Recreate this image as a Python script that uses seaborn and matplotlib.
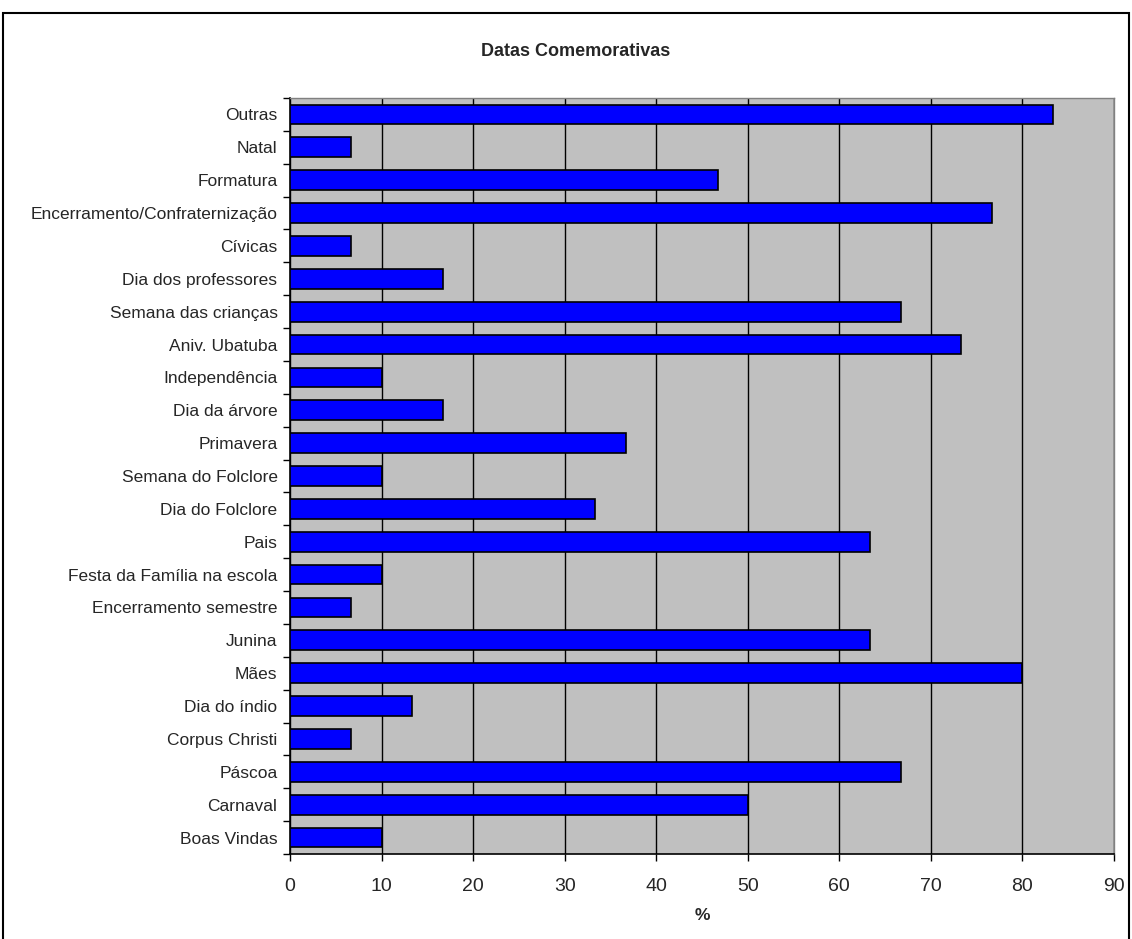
import matplotlib
matplotlib.use("Agg")
import matplotlib.pyplot as plt
from matplotlib.patches import Rectangle
from matplotlib.ticker import FixedLocator
import seaborn as sns
import pandas as pd
import numpy as np

categorias = [
    "Outras", "Natal", "Formatura", "Encerramento/Confraternização", "Cívicas",
    "Dia dos professores", "Semana das crianças", "Aniv. Ubatuba", "Independência",
    "Dia da árvore", "Primavera", "Semana do Folclore", "Dia do Folclore", "Pais",
    "Festa da Família na escola", "Encerramento semestre", "Junina", "Mães",
    "Dia do índio", "Corpus Christi", "Páscoa", "Carnaval", "Boas Vindas",
]
percentuais = [
    83.3, 6.7, 46.7, 76.7, 6.7,
    16.7, 66.7, 73.3, 10.0,
    16.7, 36.7, 10.0, 33.3, 63.3,
    10.0, 6.7, 63.3, 80.0,
    13.3, 6.7, 66.7, 50.0, 10.0,
]
x_ticks = [0, 10, 20, 30, 40, 50, 60, 70, 80, 90]

df = pd.DataFrame({"Data": categorias, "Percentual": percentuais})

sns.set_theme(style="white")
plt.rcParams["font.family"] = ["Liberation Sans", "DejaVu Sans"]

fig = plt.figure(figsize=(11.32, 9.39), dpi=100)
ax = fig.add_axes([290 / 1132, 1 - 854 / 939, (1114 - 290) / 1132, (854 - 98) / 939])
ax.set_facecolor("#C0C0C0")

sns.barplot(data=df, x="Percentual", y="Data", order=categorias, orient="h",
            color="#0000FF", saturation=1, width=0.6, edgecolor="black",
            linewidth=1.2, ax=ax, zorder=3)

ax.set_xlim(0, 90)
ax.set_ylim(len(categorias) - 0.5, -0.5)
ax.xaxis.set_major_locator(FixedLocator(x_ticks))
ax.set_xticklabels([str(t) for t in x_ticks], fontsize=14)
ax.grid(axis="x", color="black", linewidth=1.0, zorder=1)
ax.set_axisbelow(True)

# y ticks: labels at categories, tick marks at category boundaries
ax.tick_params(axis="y", which="major", length=0, pad=9, labelsize=12.5)
ax.yaxis.set_minor_locator(FixedLocator(np.arange(-0.5, len(categorias), 1.0)))
ax.tick_params(axis="y", which="minor", left=True, length=5, width=1, color="black", direction="out")
ax.tick_params(axis="x", which="major", bottom=True, length=5, width=1, color="black",
               direction="out", pad=12)

for side in ["top", "right"]:
    ax.spines[side].set_color("#808080")
    ax.spines[side].set_linewidth(1)
for side in ["left", "bottom"]:
    ax.spines[side].set_color("black")
    ax.spines[side].set_linewidth(1.2)

ax.set_ylabel("")
ax.set_xlabel("%", fontsize=12.5, fontweight="bold", labelpad=10)
fig.text(576 / 1132, 1 - 52 / 939, "Datas Comemorativas",
         ha="center", va="center", fontsize=13, fontweight="bold")

# outer chart frame
fig.patches.append(Rectangle((3 / 1132, -0.02), (1129 - 3) / 1132, 1 - 13 / 939 + 0.02,
                             transform=fig.transFigure, fill=False, edgecolor="black",
                             linewidth=1.5))

fig.savefig("out.png", dpi=100, facecolor="white")
